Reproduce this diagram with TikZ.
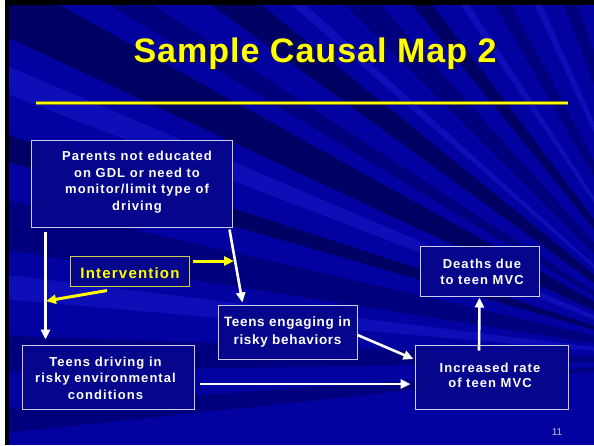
\documentclass[tikz,border=0pt]{standalone}
\usepackage{fontspec}
\setmainfont{Liberation Sans}
\newfontfamily\slidefont{Liberation Sans}[LetterSpace=8]
\newfontfamily\tightfont{Liberation Sans}[LetterSpace=5]
\newfontfamily\titlefont{Liberation Sans}[LetterSpace=3]
\usetikzlibrary{arrows.meta,calc}

\definecolor{bgblue}{RGB}{2,2,160}
\definecolor{sdark}{RGB}{0,0,126}
\definecolor{sdeep}{RGB}{0,0,100}
\definecolor{slight}{RGB}{14,14,184}
\definecolor{boxfill}{RGB}{6,6,140}
\definecolor{boxline}{RGB}{205,205,235}
\definecolor{ivborder}{RGB}{205,205,70}
\definecolor{titleyellow}{RGB}{255,255,0}
\definecolor{titleshade}{RGB}{20,20,60}
\definecolor{ruleedge}{RGB}{120,120,40}
\definecolor{pagegray}{RGB}{190,190,205}

\tikzset{
  box/.style={draw=boxline, line width=1pt, fill=boxfill, inner sep=0pt},
  ivbox/.style={draw=ivborder, line width=1pt, fill=boxfill, inner sep=0pt},
  boxtext/.style={text=white, align=center, inner sep=0pt,
    font=\slidefont\bfseries\fontsize{13}{16.5}\selectfont},
  link/.style={draw=white, line width=2.6pt, -{Triangle[length=10pt,width=9pt]}},
  ylink/.style={draw=titleyellow, line width=3pt, -{Triangle[length=10pt,width=9pt]}},
}

\begin{document}
\begin{tikzpicture}[x=1pt,y=-1pt]
\useasboundingbox (0,0) rectangle (594,445);

% slide frame and background
\fill[white] (0,0) rectangle (594,445);
\fill[black] (5,0) rectangle (594,445);
\fill[bgblue] (9,5) rectangle (594,445);

% radiating streaks
\begin{scope}
  \clip (9,5) rectangle (594,445);
  \coordinate (F) at (700,360);
  \foreach \a/\b/\c in {174/176/sdark, 179/182/sdark, 185/187/slight,
      189/193/sdark, 196/198/sdeep, 201/203/slight, 205/209/sdeep,
      211/213/sdark, 216/219/sdeep, 221/222/slight, 225/228/sdark,
      231/233/sdeep, 236/237/slight, 240/242/sdark, 245/246/slight,
      249/251/sdark}
    \fill[\c] (F) -- +(\a:1000) -- +(\b:1000) -- cycle;
\end{scope}

% title and rule
\node[anchor=base, text=titleshade, inner sep=0pt,
      font=\titlefont\bfseries\fontsize{34}{37}\selectfont]
  (titleshadow) at (316.5,63.5) {Sample Causal Map 2};
\node[anchor=base, text=titleyellow, inner sep=0pt,
      font=\titlefont\bfseries\fontsize{34}{37}\selectfont]
  (title) at (315,62) {Sample Causal Map 2};
\coordinate (ruleL) at (36,103);
\coordinate (ruleR) at (568,103);
\draw[ruleedge, line width=3.2pt] (ruleL) -- (ruleR);
\draw[titleyellow, line width=1.8pt] (ruleL) -- (ruleR);

% boxes
\node[box, minimum width=201pt, minimum height=87pt] (parents) at (131.5,183.5) {};
\node[ivbox, minimum width=119pt, minimum height=30pt] (interv) at (129.5,271) {};
\node[box, minimum width=172pt, minimum height=64pt] (driving) at (108,377) {};
\node[box, minimum width=139pt, minimum height=54pt] (engaging) at (287.5,332) {};
\node[box, minimum width=119pt, minimum height=50pt] (deaths) at (479.5,271) {};
\node[box, minimum width=153pt, minimum height=64pt] (increased) at (491.5,377) {};

% box texts
\node[boxtext] (parentstext) at (137,182)
  {Parents not educated\\on GDL or need to\\monitor/limit type of\\driving};
\node[boxtext, text=titleyellow,
      font=\slidefont\bfseries\fontsize{15}{18}\selectfont]
  (intervtext) at (130,273.5) {Intervention};
\node[boxtext] (drivingtext) at (105.5,378)
  {Teens driving in\\risky environmental\\conditions};
\node[boxtext, font=\tightfont\bfseries\fontsize{13.5}{18}\selectfont]
  (engagingtext) at (287.5,332) {Teens engaging in\\risky behaviors};
\node[boxtext, font=\slidefont\bfseries\fontsize{13}{15.5}\selectfont]
  (deathstext) at (482,272) {Deaths due\\to teen MVC};
\node[boxtext, font=\slidefont\bfseries\fontsize{13}{15.5}\selectfont]
  (increasedtext) at (490,375.5) {Increased rate\\of teen MVC};

\node[text=pagegray, inner sep=0pt, font=\fontsize{10}{11}\selectfont]
  (pageno) at (557,432) {11};

% causal links
\draw[link] ([xshift=15pt,yshift=-4pt]parents.south west)
         -- ([xshift=24pt,yshift=5pt]driving.north west);
\draw[link] ([xshift=-3pt,yshift=-2pt]parents.south east)
         -- ([xshift=25pt,yshift=2pt]engaging.north west);
\draw[link] ([yshift=-3pt]engaging.east)
         -- ([xshift=-1pt,yshift=18pt]increased.west);
\draw[link] ([xshift=5pt,yshift=-7pt]driving.east)
         -- ([xshift=-4pt,yshift=-7pt]increased.west);
\draw[link] ([xshift=-12.5pt,yshift=-6pt]increased.north)
         -- ([yshift=-1pt]deaths.south);

% intervention arrows
\coordinate (ivright) at (234,261);
\coordinate (ivleft) at (46,301);
\draw[ylink] ([xshift=3pt,yshift=10pt]interv.east) -- (ivright);
\draw[ylink] ([xshift=-22.5pt,yshift=-4pt]interv.south) -- (ivleft);
\end{tikzpicture}
\end{document}
